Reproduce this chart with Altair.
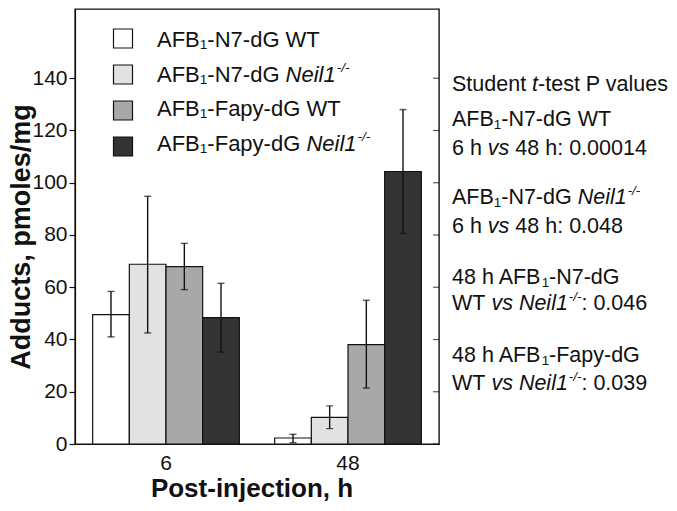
import altair as alt
import pandas as pd

# ---------------- data ----------------
times = ["6", "48"]
series = ["AFB1-N7-dG WT", "AFB1-N7-dG Neil1-/-", "AFB1-Fapy-dG WT", "AFB1-Fapy-dG Neil1-/-"]
means_6 = [49.5, 68.8, 67.9, 48.4]
means_48 = [2.3, 10.2, 38.0, 104.3]
lo_6 = [41.0, 42.5, 59.1, 35.2]
hi_6 = [58.4, 94.8, 76.8, 61.5]
lo_48 = [0.5, 5.9, 21.4, 80.6]
hi_48 = [3.7, 14.6, 55.0, 128.0]
colors = ["#ffffff", "#e2e2e2", "#a8a8a8", "#333333"]
y_ticks = [0, 20, 40, 60, 80, 100, 120, 140]

# legend labels: (segments) ; style n=normal, i=italic, sub=subscript, sup=superscript italic
legend_lines = [
    [("AFB", "n"), ("1", "sub"), ("-N7-dG WT", "n")],
    [("AFB", "n"), ("1", "sub"), ("-N7-dG ", "n"), ("Neil1", "i"), ("-/-", "sup")],
    [("AFB", "n"), ("1", "sub"), ("-Fapy-dG WT", "n")],
    [("AFB", "n"), ("1", "sub"), ("-Fapy-dG ", "n"), ("Neil1", "i"), ("-/-", "sup")],
]
note_lines = [
    [("Student ", "n"), ("t", "i"), ("-test P values", "n")],
    [("AFB", "n"), ("1", "sub"), ("-N7-dG WT", "n")],
    [("6 h ", "n"), ("vs", "i"), (" 48 h: 0.00014", "n")],
    [("AFB", "n"), ("1", "sub"), ("-N7-dG ", "n"), ("Neil1", "i"), ("-/-", "sup")],
    [("6 h ", "n"), ("vs", "i"), (" 48 h: 0.048", "n")],
    [("48 h AFB", "n"), ("1", "sub"), ("-N7-dG", "n")],
    [("WT ", "n"), ("vs", "i"), (" ", "n"), ("Neil1", "i"), ("-/-", "sup"), (": 0.046", "n")],
    [("48 h AFB", "n"), ("1", "sub"), ("-Fapy-dG", "n")],
    [("WT ", "n"), ("vs", "i"), (" ", "n"), ("Neil1", "i"), ("-/-", "sup"), (": 0.039", "n")],
]

# ---------------- layout ----------------
PW, PH = 364, 435
YMAX = 166.5
FONT = "Liberation Sans"
INK = "#111111"

legend_y = [31, 66, 100, 135]
legend_x = 82
legend_fs = 22
note_y = [76, 111, 140, 189, 218, 269, 295, 347, 375]
note_x = 377
note_fs = 21.5

W = {' ': 278, '-': 333, '/': 278, ':': 278, '.': 278,
     'A': 667, 'B': 667, 'F': 611, 'G': 778, 'N': 722, 'P': 667, 'S': 667, 'T': 611, 'W': 944,
     'a': 556, 'd': 556, 'e': 556, 'h': 556, 'i': 222, 'l': 222, 'n': 556, 'p': 556, 's': 500,
     't': 278, 'u': 556, 'v': 500, 'y': 500}


def tw(s, size):
    return sum(W.get(c, 556) for c in s) * size / 1000.0


def build(lines, ys, x0, fs):
    rows = []
    for y, segs in zip(ys, lines):
        x = x0
        for txt, st in segs:
            size = fs * 0.62 if st in ("sub", "sup") else fs
            stripped = txt.lstrip(" ")
            x += tw(txt[: len(txt) - len(stripped)], size)
            if stripped.strip():
                rows.append(dict(px=x, py=y, text=stripped, style=st, fs=size))
            x += tw(stripped, size)
            if st == "i" and txt == "Neil1":
                x += 1.0
    return rows


text_df = pd.DataFrame(build(legend_lines, legend_y, legend_x, legend_fs)
                       + build(note_lines, note_y, note_x, note_fs))

rows = []
for i, s in enumerate(series):
    rows.append(dict(time="6", series=s, mean=means_6[i], lo=lo_6[i], hi=hi_6[i]))
    rows.append(dict(time="48", series=s, mean=means_48[i], lo=lo_48[i], hi=hi_48[i]))
df = pd.DataFrame(rows)

yscale = alt.Scale(domain=[0, YMAX], nice=False, zero=True)
yaxis = alt.Axis(values=y_ticks, title="Adducts, pmoles/mg", tickSize=6,
                 labelFontSize=21, labelPadding=2,
                 titleFontSize=27, titleFontWeight="bold",
                 titleAngle=270, titleX=-46, titleY=227.5,
                 titleAlign="center", titleBaseline="alphabetic")

base = alt.Chart(df).encode(
    x=alt.X("time:N", sort=times,
            scale=alt.Scale(paddingInner=0.194, paddingOuter=0.097),
            axis=alt.Axis(title="Post-injection, h", labelAngle=0, ticks=False,
                          labelFontSize=21, labelPadding=8,
                          titleFontSize=26, titleFontWeight="bold",
                          titleX=176.5, titleY=52, titleBaseline="alphabetic")),
    xOffset=alt.XOffset("series:N", sort=series,
                        scale=alt.Scale(paddingInner=0, paddingOuter=0)),
)

bars = base.mark_bar(stroke=INK, strokeWidth=1.2).encode(
    y=alt.Y("mean:Q", scale=yscale, axis=yaxis),
    color=alt.Color("series:N", sort=series,
                    scale=alt.Scale(domain=series, range=colors),
                    legend=alt.Legend(orient="none", legendX=37.5, legendY=19,
                                      title=None, symbolType="square", symbolSize=361,
                                      symbolStrokeColor=INK, symbolStrokeWidth=1.2,
                                      symbolOpacity=1, rowPadding=11, padding=0,
                                      labelExpr="''", labelFontSize=20)),
)

err = base.mark_rule(color=INK, strokeWidth=1.4).encode(
    y=alt.Y("lo:Q", scale=yscale, axis=yaxis), y2="hi:Q")
cap_lo = base.mark_tick(color=INK, thickness=1.4, size=7, orient="horizontal").encode(
    y=alt.Y("lo:Q", scale=yscale, axis=yaxis))
cap_hi = base.mark_tick(color=INK, thickness=1.4, size=7, orient="horizontal").encode(
    y=alt.Y("hi:Q", scale=yscale, axis=yaxis))

right_ticks = alt.Chart(pd.DataFrame({"v": y_ticks})).mark_tick(
    color=INK, thickness=1.2, size=6, orient="horizontal").encode(
    y=alt.Y("v:Q", scale=yscale, axis=yaxis),
    x=alt.value(PW - 3),
)

main = alt.layer(bars, err, cap_lo, cap_hi, right_ticks)


def text_layer(style, **kw):
    return alt.Chart(text_df).transform_filter(
        alt.datum.style == style
    ).mark_text(align="left", baseline="middle", font=FONT, color="#111111", **kw).encode(
        x=alt.X("px:Q", scale=None, axis=None),
        y=alt.Y("py:Q", scale=None, axis=None),
        size=alt.Size("fs:Q", scale=None, legend=None),
        text="text:N",
    )


texts = alt.layer(
    text_layer("n"),
    text_layer("i", fontStyle="italic"),
    text_layer("sub", dy=4.5),
    text_layer("sup", fontStyle="italic", dy=-7.5),
)

chart = alt.layer(main, texts).resolve_scale(
    x="independent", y="independent"
).properties(
    width=PW, height=PH,
    autosize=alt.AutoSizeParams(type="none"),
    padding={"left": 67, "top": 1, "right": 230, "bottom": 61},
).configure_view(
    stroke=INK, strokeWidth=1.4
).configure_axis(
    grid=False, domainColor=INK, tickColor=INK, labelColor="#111111", titleColor="#111111",
    labelFont=FONT, titleFont=FONT, domainWidth=1.2, tickWidth=1.2
)

chart.save("out.html", embed_options={"renderer": "svg", "actions": False})
